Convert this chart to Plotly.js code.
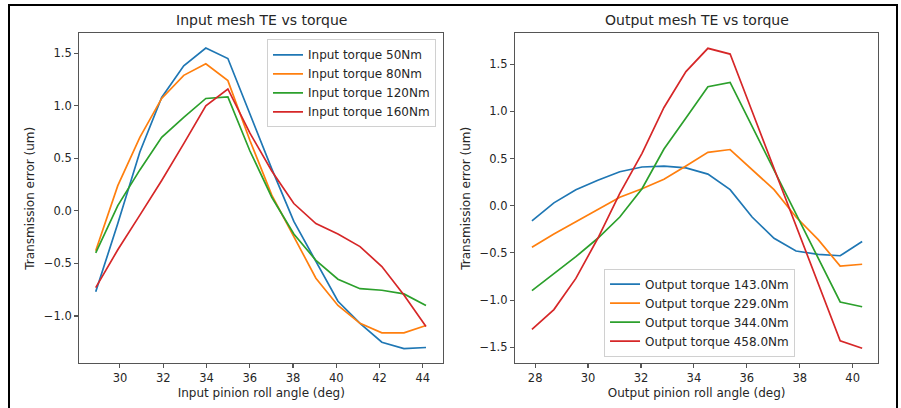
<!DOCTYPE html>
<html>
<head>
<meta charset="utf-8">
<script src="https://cdn.plot.ly/plotly-3.0.1.min.js"></script>
<style>
  html, body { margin: 0; padding: 0; background: #fff; }
  #chart { width: 901px; height: 408px; }
</style>
</head>
<body>
<div id="chart"></div>
<script>
// ---- data ----
const inputAngle = [28.88, 29.90, 30.92, 31.93, 32.95, 33.97, 34.99, 36.01, 37.02, 38.04, 39.06, 40.08, 41.10, 42.11, 43.13, 44.15];
const inputTE50  = [-0.77, -0.12, 0.56, 1.08, 1.38, 1.55, 1.45, 0.92, 0.40, -0.10, -0.48, -0.86, -1.07, -1.25, -1.31, -1.30];
const inputTE80  = [-0.38, 0.24, 0.70, 1.07, 1.29, 1.40, 1.24, 0.67, 0.15, -0.25, -0.64, -0.90, -1.07, -1.16, -1.16, -1.09];
const inputTE120 = [-0.40, 0.05, 0.39, 0.70, 0.89, 1.07, 1.085, 0.57, 0.13, -0.22, -0.47, -0.65, -0.74, -0.755, -0.79, -0.90];
const inputTE160 = [-0.73, -0.37, -0.04, 0.29, 0.64, 1.00, 1.16, 0.74, 0.38, 0.07, -0.12, -0.22, -0.34, -0.53, -0.80, -1.10];
const inputNames = ["Input torque 50Nm", "Input torque 80Nm", "Input torque 120Nm", "Input torque 160Nm"];

const outputAngle = [27.88, 28.71, 29.54, 30.37, 31.20, 32.04, 32.87, 33.70, 34.53, 35.37, 36.20, 37.03, 37.86, 38.70, 39.53, 40.36];
const outputTE143 = [-0.16, 0.03, 0.17, 0.27, 0.36, 0.41, 0.42, 0.40, 0.335, 0.17, -0.12, -0.345, -0.48, -0.515, -0.53, -0.38];
const outputTE229 = [-0.44, -0.30, -0.17, -0.04, 0.09, 0.18, 0.28, 0.42, 0.565, 0.595, 0.38, 0.17, -0.12, -0.36, -0.64, -0.62];
const outputTE344 = [-0.90, -0.72, -0.54, -0.345, -0.12, 0.18, 0.60, 0.93, 1.26, 1.305, 0.84, 0.38, -0.09, -0.56, -1.02, -1.07];
const outputTE458 = [-1.31, -1.10, -0.77, -0.345, 0.13, 0.555, 1.04, 1.42, 1.667, 1.606, 1.0, 0.39, -0.215, -0.82, -1.43, -1.51];
const outputNames = ["Output torque 143.0Nm", "Output torque 229.0Nm", "Output torque 344.0Nm", "Output torque 458.0Nm"];

const colors = ["#1f77b4", "#ff7f0e", "#2ca02c", "#d62728"];
const inputSeries = [inputTE50, inputTE80, inputTE120, inputTE160];
const outputSeries = [outputTE143, outputTE229, outputTE344, outputTE458];

const FONT = "DejaVu Sans, sans-serif";
const TXT = "#262626";

const traces = [];
inputSeries.forEach((ys, i) => traces.push({
  x: inputAngle, y: ys, type: "scatter", mode: "lines", name: inputNames[i],
  line: { color: colors[i], width: 1.7 }, xaxis: "x", yaxis: "y", legend: "legend"
}));
outputSeries.forEach((ys, i) => traces.push({
  x: outputAngle, y: ys, type: "scatter", mode: "lines", name: outputNames[i],
  line: { color: colors[i], width: 1.7 }, xaxis: "x2", yaxis: "y2", legend: "legend2"
}));

const axisCommon = {
  showgrid: false, zeroline: false, showline: true, mirror: true,
  linecolor: "#555", linewidth: 1.2, ticks: "outside", ticklen: 4, tickwidth: 1.1,
  tickcolor: "#555", tickfont: { family: FONT, size: 11.5, color: TXT }
};
const titleFont = { family: FONT, size: 12, color: TXT };

const layout = {
  width: 901, height: 408,
  margin: { l: 0, r: 0, t: 0, b: 0 },
  paper_bgcolor: "#fff", plot_bgcolor: "#fff",
  showlegend: true,
  xaxis: Object.assign({}, axisCommon, {
    domain: [0.0880, 0.4920], range: [28.12, 44.95], dtick: 2, tick0: 0,
    title: { text: "Input pinion roll angle (deg)", font: titleFont, standoff: 4 }
  }),
  yaxis: Object.assign({}, axisCommon, {
    domain: [0.1096, 0.9184], range: [-1.45, 1.69], dtick: 0.5, tick0: 0, tickformat: ".1f",
    title: { text: "Transmission error (um)", font: titleFont, standoff: 6 }
  }),
  xaxis2: Object.assign({}, axisCommon, {
    domain: [0.5716, 0.9748], range: [27.24, 40.97], dtick: 2, tick0: 0, anchor: "y2",
    title: { text: "Output pinion roll angle (deg)", font: titleFont, standoff: 4 }
  }),
  yaxis2: Object.assign({}, axisCommon, {
    domain: [0.1096, 0.9184], range: [-1.669, 1.826], dtick: 0.5, tick0: 0, tickformat: ".1f", anchor: "x2",
    title: { text: "Transmission error (um)", font: titleFont, standoff: 6 }
  }),
  legend: {
    x: 0.4839, y: 0.9037, xanchor: "right", yanchor: "top",
    bgcolor: "rgba(255,255,255,0.8)", bordercolor: "#d0d0d0", borderwidth: 1,
    font: { family: FONT, size: 12, color: TXT }
  },
  legend2: {
    x: 0.6704, y: 0.1257, xanchor: "left", yanchor: "bottom",
    bgcolor: "rgba(255,255,255,0.8)", bordercolor: "#d0d0d0", borderwidth: 1,
    font: { family: FONT, size: 12, color: TXT }
  },
  annotations: [
    { text: "Input mesh TE vs torque", xref: "paper", yref: "paper",
      x: (0.0880 + 0.4920) / 2, y: 1 - 20 / 408, xanchor: "center", yanchor: "middle",
      showarrow: false, font: { family: FONT, size: 14, color: TXT } },
    { text: "Output mesh TE vs torque", xref: "paper", yref: "paper",
      x: (0.5716 + 0.9748) / 2, y: 1 - 20 / 408, xanchor: "center", yanchor: "middle",
      showarrow: false, font: { family: FONT, size: 14, color: TXT } }
  ],
  shapes: [
    { type: "rect", xref: "paper", yref: "paper", x0: 9 / 901, x1: 897 / 901, y0: -0.05, y1: 1 - 5 / 408,
      line: { color: "#000", width: 2 }, fillcolor: "rgba(0,0,0,0)", layer: "above" }
  ]
};

Plotly.newPlot("chart", traces, layout, { staticPlot: true, displayModeBar: false });
</script>
</body>
</html>
